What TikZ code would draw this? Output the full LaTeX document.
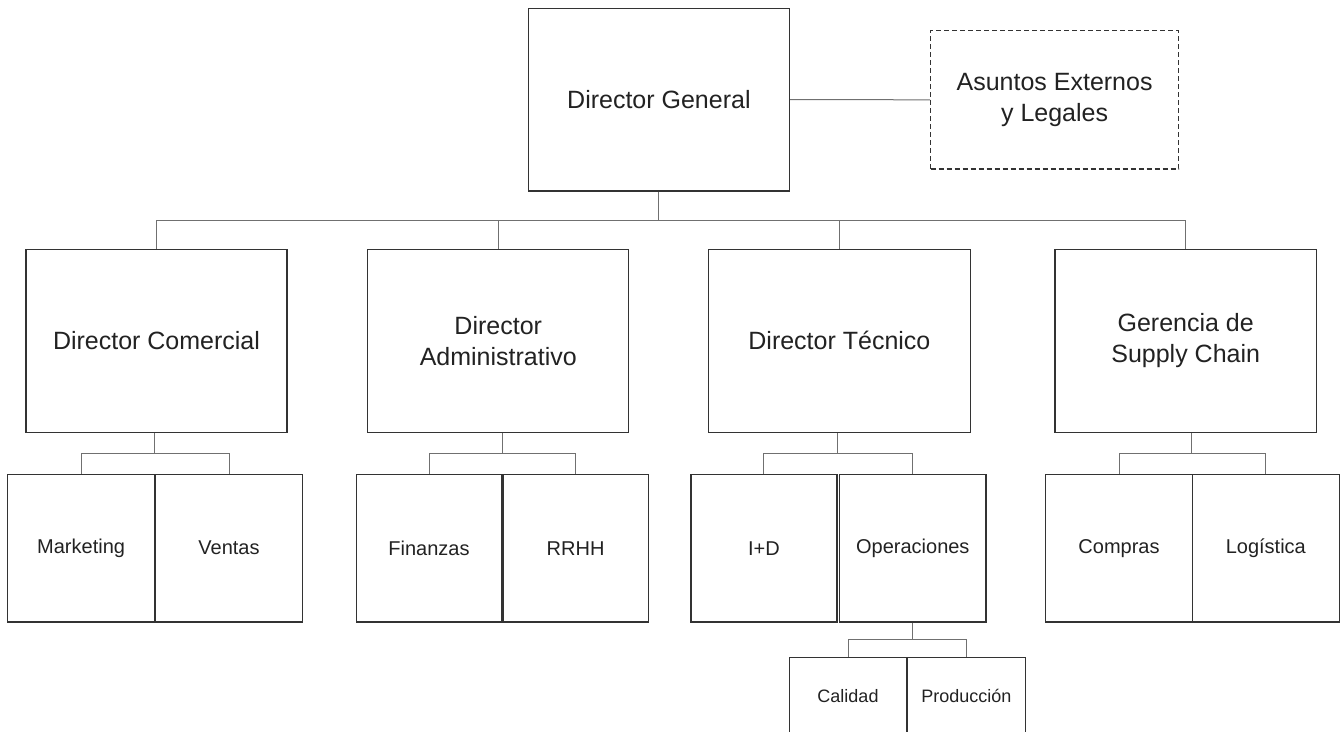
\documentclass[tikz,border=0pt]{standalone}
\usepackage{fontspec}
\setmainfont{Liberation Sans}
\definecolor{boxc}{HTML}{333333}
\definecolor{linec}{HTML}{707070}
\definecolor{txt}{HTML}{222222}
\begin{document}
\begin{tikzpicture}[x=1pt,y=-1pt,
  bx/.style={draw=boxc,line width=1.4pt,inner sep=0pt,align=center,text=txt},
  big/.style={bx,font=\fontsize{25}{31}\selectfont,minimum height=183pt,minimum width=261pt},
  mid/.style={bx,font=\fontsize{20}{24}\selectfont,minimum height=147.7pt},
  sml/.style={bx,font=\fontsize{18}{22}\selectfont,minimum height=77.4pt},
  conn/.style={draw=linec,line width=1pt}]
\useasboundingbox (0,0) rectangle (1344,731);
\fill[white] (0,0) rectangle (1344,731);
% level 0
\node[big,minimum width=260.8pt,minimum height=182.7pt] (dg) at (658.9,99.6) {Director General};
\node[bx,dashed,dash pattern=on 5pt off 3pt,line width=1.2pt,font=\fontsize{25}{31}\selectfont,minimum width=248pt,minimum height=138.3pt] (ael) at (1054.6,99.8) {Asuntos Externos\\y Legales};
% level 1
\node[big] (dc) at (156.5,340.8) {Director Comercial};
\node[big] (da) at (498.25,340.8) {Director\\Administrativo};
\node[big,minimum width=261.8pt] (dt) at (839.4,340.8) {Director Técnico};
\node[big,minimum width=261.4pt] (sc) at (1185.7,340.8) {Gerencia de\\Supply Chain};
% level 2
\node[mid,minimum width=146.7pt] (mk) at (81.1,548.2) {Marketing};
\node[mid,minimum width=146.7pt] (vt) at (229.0,548.2) {Ventas};
\node[mid,minimum width=145.5pt] (fi) at (429.0,548.2) {Finanzas};
\node[mid,minimum width=145.5pt] (rh) at (575.6,548.2) {RRHH};
\node[mid,minimum width=145.8pt] (id) at (763.9,548.2) {I+D};
\node[mid,minimum width=146.2pt] (op) at (912.8,548.2) {Operaciones};
\node[mid,minimum width=146.6pt] (co) at (1119.0,548.2) {Compras};
\node[mid,minimum width=147pt] (lo) at (1265.8,548.2) {Logística};
% level 3
\node[sml,minimum width=117.4pt] (ca) at (848.0,696) {Calidad};
\node[sml,minimum width=117.8pt] (pr) at (966.4,696) {Producción};
% connectors
\draw[conn] (dg.east) -- (ael.west);
\coordinate (b1) at (658.9,220);
\draw[conn] (dg.south) -- (b1);
\draw[conn] (dc.north) -- (dc.north |- b1) -- (sc.north |- b1) -- (sc.north);
\draw[conn] (da.north) -- (da.north |- b1);
\draw[conn] (dt.north) -- (dt.north |- b1);
\coordinate (b2) at (0,453.7);
\draw[conn] (dc.south -| vt.west) -- (b2 -| vt.west);
\draw[conn] (mk.north) -- (mk.north |- b2) -- (vt.north |- b2) -- (vt.north);
\draw[conn] (da.south -| rh.west) -- (b2 -| rh.west);
\draw[conn] (fi.north) -- (fi.north |- b2) -- (rh.north |- b2) -- (rh.north);
\draw[conn] (dt.south -| id.east) -- (b2 -| id.east);
\draw[conn] (id.north) -- (id.north |- b2) -- (op.north |- b2) -- (op.north);
\draw[conn] (sc.south -| lo.west) -- (b2 -| lo.west);
\draw[conn] (co.north) -- (co.north |- b2) -- (lo.north |- b2) -- (lo.north);
\coordinate (b3) at (0,639.3);
\draw[conn] (op.south) -- (b3 -| op.south);
\draw[conn] (ca.north) -- (ca.north |- b3) -- (pr.north |- b3) -- (pr.north);
\end{tikzpicture}
\end{document}
